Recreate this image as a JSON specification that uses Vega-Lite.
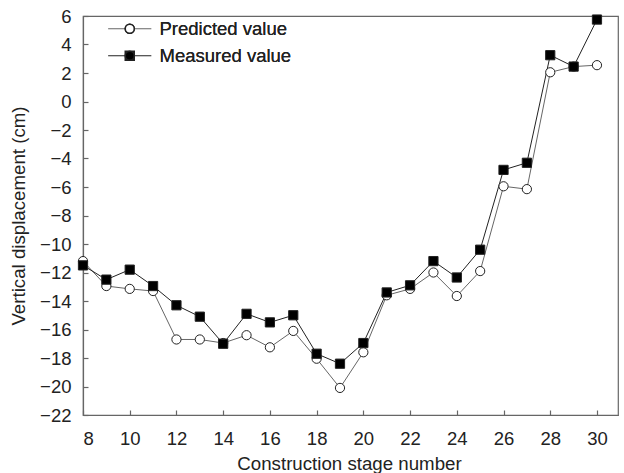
{
  "$schema": "https://vega.github.io/schema/vega-lite/v6.json",
  "width": 535,
  "height": 399,
  "autosize": {"type": "none"},
  "padding": {"left": 83, "top": 16, "right": 6, "bottom": 58},
  "background": "white",
  "config": {
    "font": "Liberation Sans",
    "view": {"stroke": "#666", "strokeWidth": 1.2},
    "axis": {
      "grid": false,
      "domainColor": "#666",
      "domainWidth": 1.2,
      "tickColor": "#666",
      "tickWidth": 1.2,
      "tickSize": -5,
      "labelFont": "Liberation Sans",
      "labelFontSize": 18.5,
      "labelColor": "#222",
      "titleFont": "Liberation Sans",
      "titleFontSize": 18.7,
      "titleFontWeight": "normal",
      "titleColor": "#222"
    }
  },
  "data": {
    "values": [
      {"stage": 8, "series": "Predicted value", "value": -11.2},
      {"stage": 9, "series": "Predicted value", "value": -12.95},
      {"stage": 10, "series": "Predicted value", "value": -13.15},
      {"stage": 11, "series": "Predicted value", "value": -13.3},
      {"stage": 12, "series": "Predicted value", "value": -16.7},
      {"stage": 13, "series": "Predicted value", "value": -16.7},
      {"stage": 14, "series": "Predicted value", "value": -16.95},
      {"stage": 15, "series": "Predicted value", "value": -16.4},
      {"stage": 16, "series": "Predicted value", "value": -17.25},
      {"stage": 17, "series": "Predicted value", "value": -16.1},
      {"stage": 18, "series": "Predicted value", "value": -18.05},
      {"stage": 19, "series": "Predicted value", "value": -20.1},
      {"stage": 20, "series": "Predicted value", "value": -17.6},
      {"stage": 21, "series": "Predicted value", "value": -13.6},
      {"stage": 22, "series": "Predicted value", "value": -13.15},
      {"stage": 23, "series": "Predicted value", "value": -12.0},
      {"stage": 24, "series": "Predicted value", "value": -13.65},
      {"stage": 25, "series": "Predicted value", "value": -11.9},
      {"stage": 26, "series": "Predicted value", "value": -5.95},
      {"stage": 27, "series": "Predicted value", "value": -6.15},
      {"stage": 28, "series": "Predicted value", "value": 2.05},
      {"stage": 29, "series": "Predicted value", "value": 2.45},
      {"stage": 30, "series": "Predicted value", "value": 2.55},
      {"stage": 8, "series": "Measured value", "value": -11.5},
      {"stage": 9, "series": "Measured value", "value": -12.5},
      {"stage": 10, "series": "Measured value", "value": -11.8},
      {"stage": 11, "series": "Measured value", "value": -12.95},
      {"stage": 12, "series": "Measured value", "value": -14.3},
      {"stage": 13, "series": "Measured value", "value": -15.1},
      {"stage": 14, "series": "Measured value", "value": -17.0},
      {"stage": 15, "series": "Measured value", "value": -14.9},
      {"stage": 16, "series": "Measured value", "value": -15.5},
      {"stage": 17, "series": "Measured value", "value": -15.0},
      {"stage": 18, "series": "Measured value", "value": -17.7},
      {"stage": 19, "series": "Measured value", "value": -18.4},
      {"stage": 20, "series": "Measured value", "value": -16.95},
      {"stage": 21, "series": "Measured value", "value": -13.4},
      {"stage": 22, "series": "Measured value", "value": -12.9},
      {"stage": 23, "series": "Measured value", "value": -11.2},
      {"stage": 24, "series": "Measured value", "value": -12.35},
      {"stage": 25, "series": "Measured value", "value": -10.4},
      {"stage": 26, "series": "Measured value", "value": -4.8},
      {"stage": 27, "series": "Measured value", "value": -4.3},
      {"stage": 28, "series": "Measured value", "value": 3.25},
      {"stage": 29, "series": "Measured value", "value": 2.45},
      {"stage": 30, "series": "Measured value", "value": 5.75}
    ]
  },
  "encoding": {
    "x": {
      "field": "stage",
      "type": "quantitative",
      "scale": {"domain": [8, 30.9], "nice": false, "zero": false},
      "axis": {
        "values": [8, 10, 12, 14, 16, 18, 20, 22, 24, 26, 28, 30],
        "title": "Construction stage number",
        "labelPadding": 19,
        "titleX": 266,
        "titleY": 48,
        "titleBaseline": "middle"
      }
    },
    "y": {
      "field": "value",
      "type": "quantitative",
      "scale": {"domain": [-22, 6], "nice": false, "zero": false},
      "axis": {
        "values": [-22, -20, -18, -16, -14, -12, -10, -8, -6, -4, -2, 0, 2, 4, 6],
        "title": "Vertical displacement (cm)",
        "labelPadding": 17,
        "titleX": -65,
        "titleY": 199.5,
        "titleBaseline": "middle"
      }
    }
  },
  "layer": [
    {
      "mark": {"type": "line", "strokeWidth": 1},
      "encoding": {
        "detail": {"field": "series"},
        "stroke": {
          "field": "series",
          "type": "nominal",
          "scale": {"domain": ["Predicted value", "Measured value"], "range": ["#666", "#222"]},
          "legend": {
            "title": null,
            "orient": "none",
            "legendX": 37.5,
            "legendY": 3.5,
            "padding": 0,
            "labelFontSize": 18.5,
            "labelOpacity": 0,
            "labelOffset": 20.5,
            "symbolSize": 81,
            "symbolStrokeWidth": 1,
            "rowPadding": 8,
            "symbolType": "M-4.8,0L-1.05,0M1.05,0L4.8,0"
          }
        }
      }
    },
    {
      "mark": {"type": "point", "filled": true, "size": 85, "opacity": 1, "stroke": "#222", "strokeWidth": 1},
      "encoding": {
        "shape": {
          "field": "series",
          "type": "nominal",
          "sort": ["Predicted value", "Measured value"],
          "scale": {"range": ["circle", "square"]},
          "legend": {
            "title": null,
            "orient": "none",
            "legendX": 37.5,
            "legendY": 3.5,
            "padding": 0,
            "labelFontSize": 18.5,
            "labelColor": "#222",
            "labelOffset": 20.5,
            "symbolSize": 81,
            "rowPadding": 8
          }
        },
        "fill": {
          "field": "series",
          "type": "nominal",
          "sort": ["Predicted value", "Measured value"],
          "scale": {"range": ["white", "black"]},
          "legend": {
            "title": null,
            "orient": "none",
            "legendX": 37.5,
            "legendY": 3.5,
            "padding": 0,
            "labelFontSize": 18.5,
            "labelColor": "#222",
            "labelOffset": 20.5,
            "symbolSize": 81,
            "rowPadding": 8
          }
        }
      }
    }
  ]
}
